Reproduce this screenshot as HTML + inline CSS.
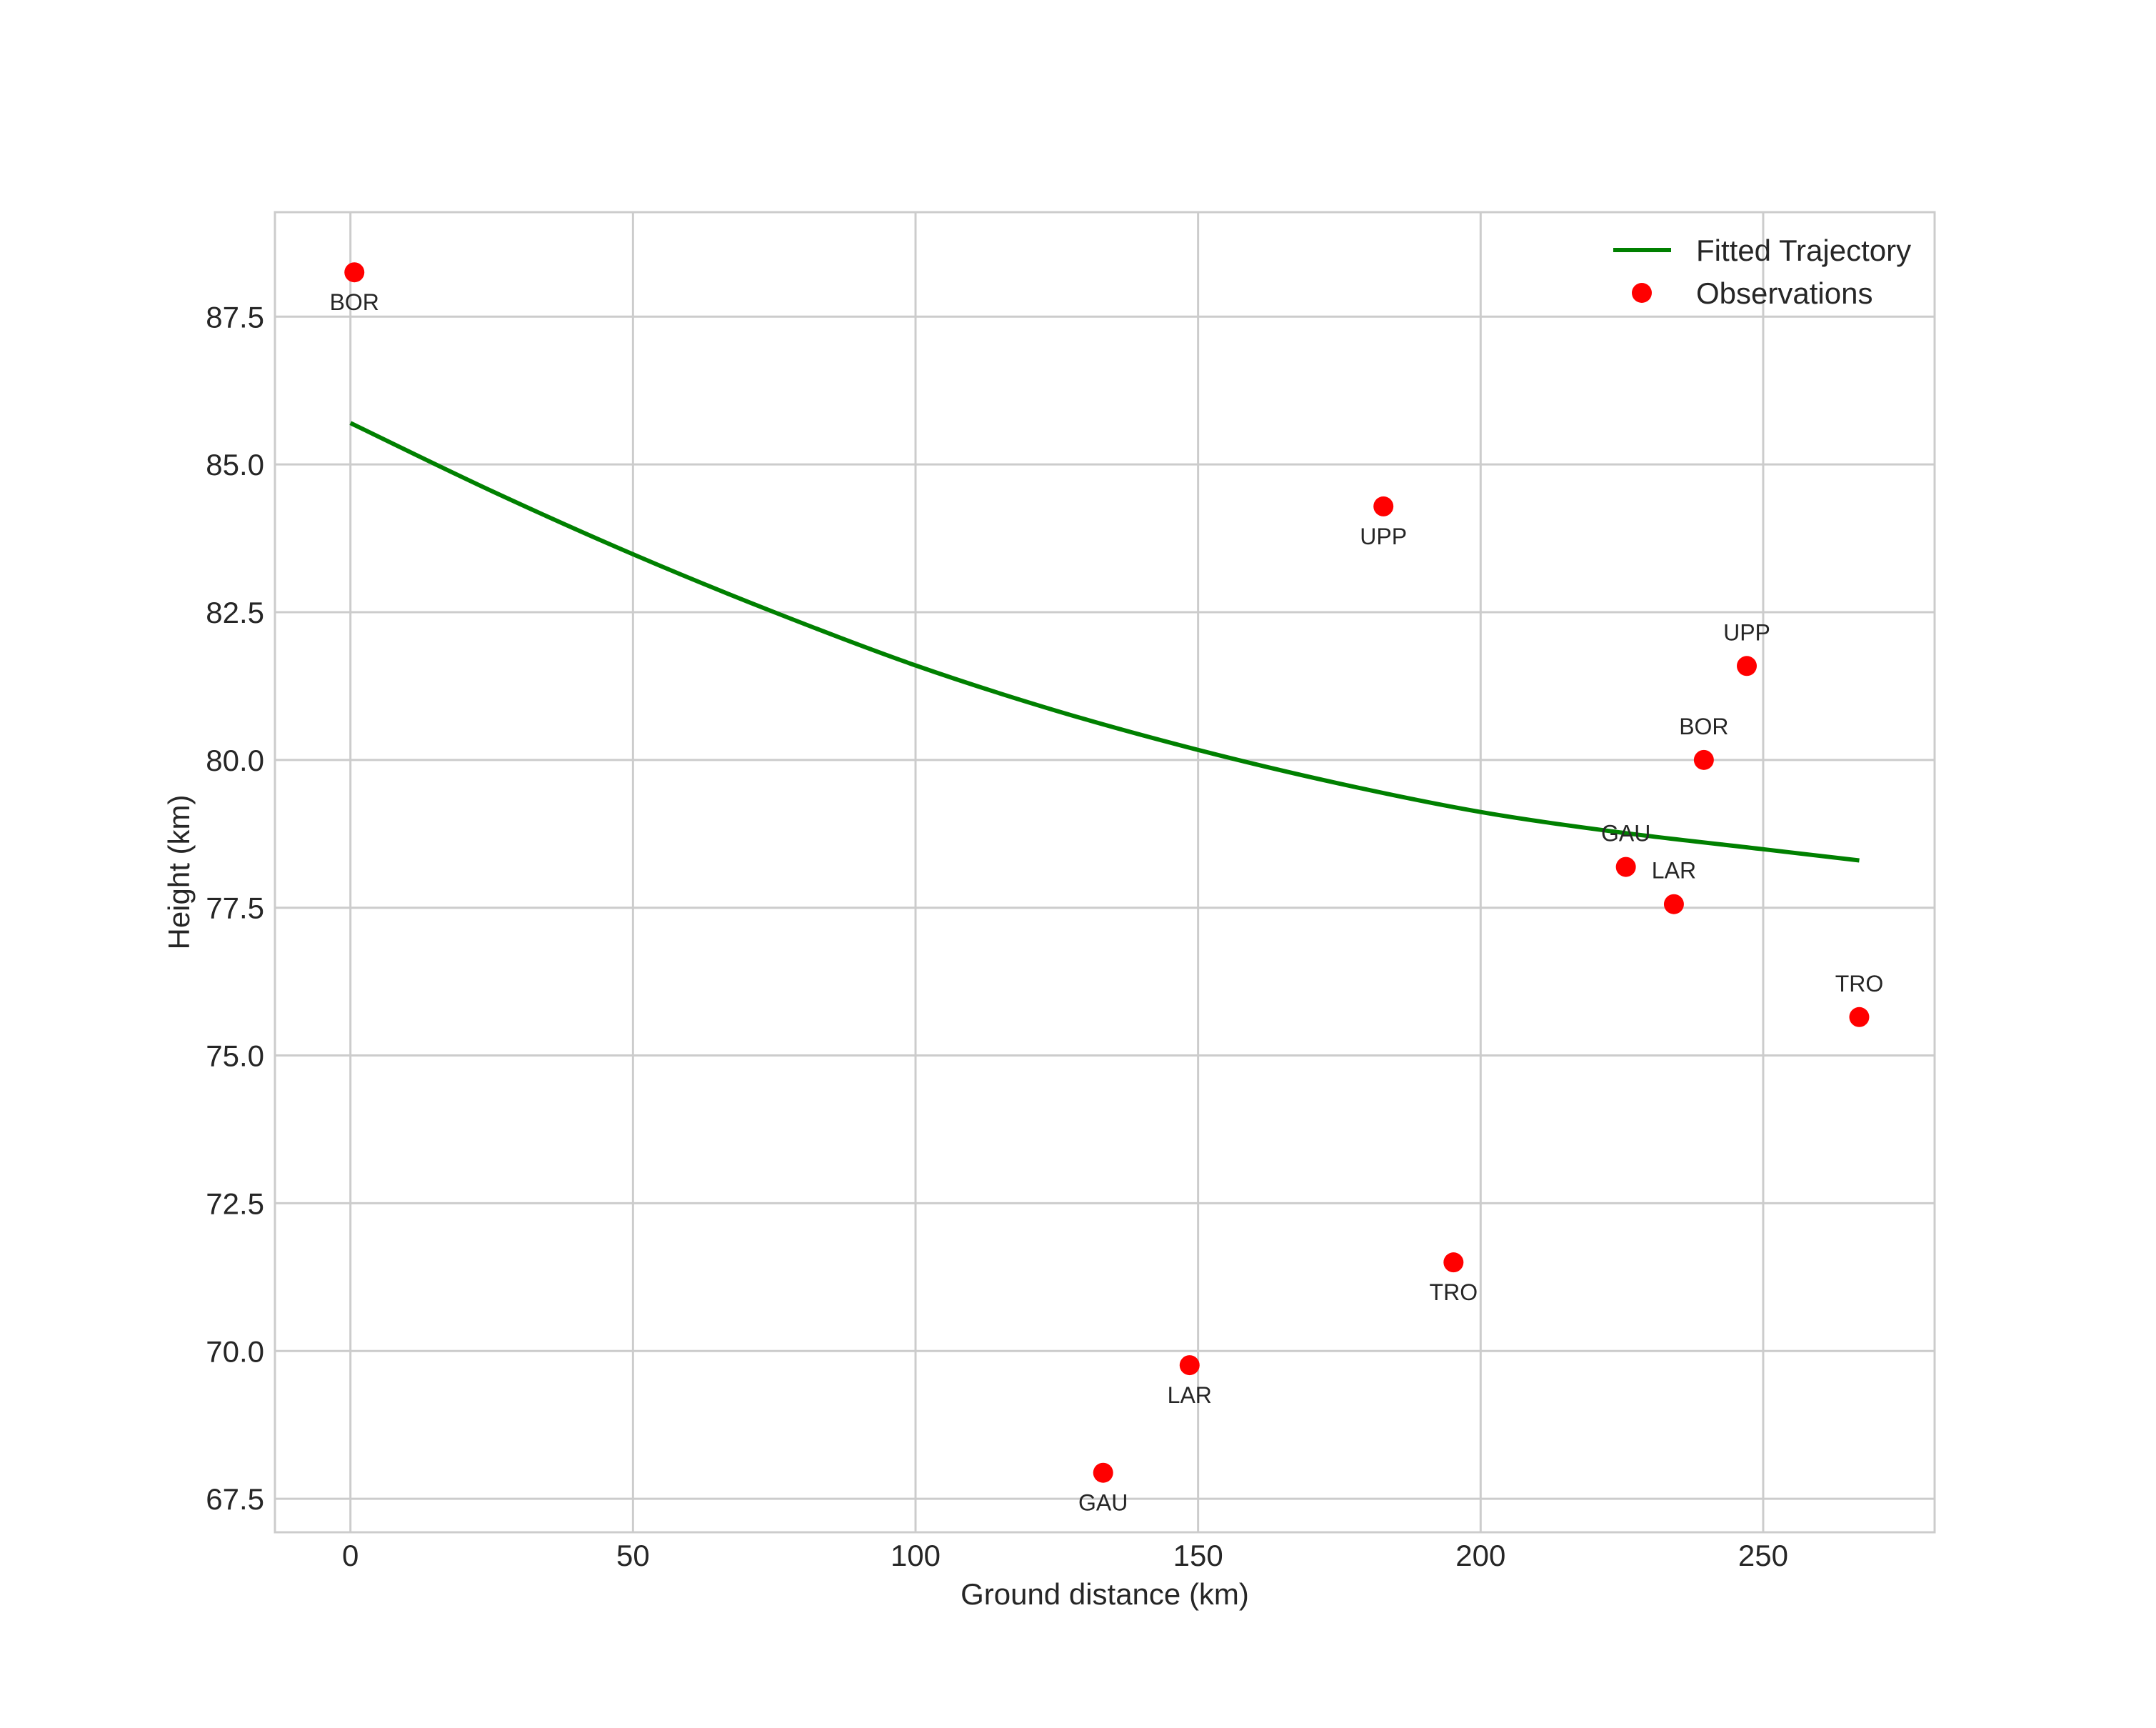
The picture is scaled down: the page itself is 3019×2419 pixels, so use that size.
<!DOCTYPE html>
<html><head><meta charset="utf-8"><style>
html,body{margin:0;padding:0;background:#fff;}
svg{display:block;font-family:"Liberation Sans",sans-serif;}
</style></head><body>
<svg id="chart" width="3019" height="2419" viewBox="0 0 3019 2419" xmlns="http://www.w3.org/2000/svg">
<rect width="3019" height="2419" fill="#fff"/>
<g id="grid"></g>
<g id="ticks"></g>
<g id="series"></g>
<rect x="385" y="297" width="2324" height="1848" fill="none" stroke="#cccccc" stroke-width="3"/>
<text x="1547" y="2246" font-size="42" fill="#262626" text-anchor="middle">Ground distance (km)</text>
<text x="0" y="0" transform="translate(265,1221) rotate(-90)" font-size="42" fill="#262626" text-anchor="middle">Height (km)</text>
<g>
<line x1="2259" y1="350" x2="2340" y2="350" stroke="#008000" stroke-width="6"/>
<text x="2375" y="365" font-size="42" fill="#262626">Fitted Trajectory</text>
<circle cx="2299" cy="410" r="14" fill="#ff0000"/>
<text x="2375" y="425" font-size="42" fill="#262626">Observations</text>
</g>
</svg>
<script>
const xTicks = [0, 50, 100, 150, 200, 250];
const yTicks = [67.5, 70.0, 72.5, 75.0, 77.5, 80.0, 82.5, 85.0, 87.5];
const curveX = [0, 25, 50, 75, 100, 125, 150, 175, 200, 225, 250, 267];
const curveY = [85.7, 84.55, 83.48, 82.5, 81.6, 80.83, 80.17, 79.6, 79.12, 78.77, 78.49, 78.3];
const obsLabels = ["BOR","UPP","UPP","BOR","GAU","LAR","TRO","TRO","LAR","GAU"];
const obsX = [0.7, 182.8, 247.1, 239.5, 225.7, 234.2, 267.0, 195.2, 148.5, 133.2];
const obsY = [88.25, 84.29, 81.59, 80.0, 78.19, 77.56, 75.65, 71.5, 69.76, 67.94];
const obsAbove = [false, false, true, true, true, true, true, false, false, false];

const NS = "http://www.w3.org/2000/svg";
const X0 = 490.7, XS = 7.913, Y0 = 443.3, YS = 82.74;
function sx(v){ return X0 + v * XS; }
function sy(v){ return Y0 + (87.5 - v) * YS; }
function mk(tag, attrs, parent){
  const e = document.createElementNS(NS, tag);
  for (const k in attrs) e.setAttribute(k, attrs[k]);
  parent.appendChild(e);
  return e;
}
const grid = document.getElementById('grid');
const ticks = document.getElementById('ticks');
const series = document.getElementById('series');

xTicks.forEach(t => {
  const l = mk('line', {x1: sx(t), x2: sx(t), y1: 297, y2: 2145, stroke: '#cccccc', 'stroke-width': 3}, grid);
  
  
  const tx = mk('text', {x: sx(t), y: 2192, 'font-size': 42, fill: '#262626', 'text-anchor': 'middle'}, ticks);
  tx.textContent = String(t);
  
  
});
yTicks.forEach(t => {
  const l = mk('line', {x1: 385, x2: 2709, y1: sy(t), y2: sy(t), stroke: '#cccccc', 'stroke-width': 3}, grid);
  
  
  const tx = mk('text', {x: 370, y: sy(t) + 15, 'font-size': 42, fill: '#262626', 'text-anchor': 'end'}, ticks);
  tx.textContent = t.toFixed(1);
  
  
});

// smooth curve via Catmull-Rom -> cubic Bezier
const pts = curveX.map((x, i) => [sx(x), sy(curveY[i])]);
let d = 'M' + pts[0][0].toFixed(1) + ',' + pts[0][1].toFixed(1);
for (let i = 0; i < pts.length - 1; i++) {
  const p0 = pts[Math.max(0, i - 1)], p1 = pts[i], p2 = pts[i + 1], p3 = pts[Math.min(pts.length - 1, i + 2)];
  const c1 = [p1[0] + (p2[0] - p0[0]) / 6, p1[1] + (p2[1] - p0[1]) / 6];
  const c2 = [p2[0] - (p3[0] - p1[0]) / 6, p2[1] - (p3[1] - p1[1]) / 6];
  d += ' C' + c1[0].toFixed(1) + ',' + c1[1].toFixed(1) + ' ' + c2[0].toFixed(1) + ',' + c2[1].toFixed(1) + ' ' + p2[0].toFixed(1) + ',' + p2[1].toFixed(1);
}
const path = mk('path', {d: d, fill: 'none', stroke: '#008000', 'stroke-width': 6, 'stroke-linejoin': 'round'}, series);



obsX.forEach((x, i) => {
  const c = mk('circle', {cx: sx(x), cy: sy(obsY[i]), r: 14, fill: '#ff0000'}, series);
  
  
  const ly = obsAbove[i] ? sy(obsY[i]) - 36 : sy(obsY[i]) + 53;
  const t = mk('text', {x: sx(x), y: ly, 'font-size': 32, fill: '#262626', 'text-anchor': 'middle'}, series);
  t.textContent = obsLabels[i];
  
  
});
</script>
</body></html>
